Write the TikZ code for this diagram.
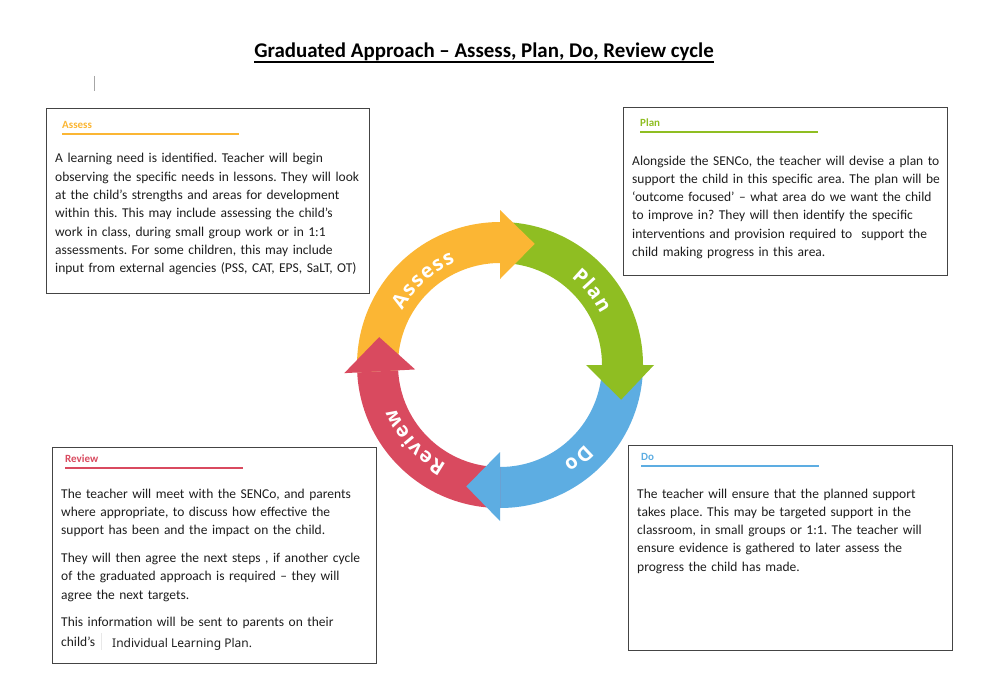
\documentclass[tikz,border=0pt]{standalone}
\usepackage{fontspec}
\setmainfont{Carlito}
\newfontfamily\ringfont{Open Sans}
\newfontfamily\ilpfont{Noto Sans}
\definecolor{cAssess}{HTML}{FBB634}
\definecolor{cPlan}{HTML}{8FBE22}
\definecolor{cDo}{HTML}{5DADE2}
\definecolor{cReview}{HTML}{D94A5F}
\definecolor{boxline}{HTML}{444444}
\definecolor{txt}{HTML}{1E1E1E}
\frenchspacing
\tikzset{
  panel/.style={draw=boxline, line width=1.1pt, anchor=north west, inner sep=0pt},
  hdr/.style={font=\fontsize{11}{12}\selectfont\bfseries, anchor=west, inner sep=0pt},
  hline/.style={line width=2pt},
  body/.style={font=\fontsize{13.5}{18.3}\selectfont, text=txt, anchor=base west, inner sep=0pt, text width=340pt, align=left},
  ringchar/.style={font=\ringfont\bfseries\fontsize{20}{22}\selectfont, text=white, anchor=base, inner sep=0pt}
}
% #1 name prefix, #2 centre angle, #3 baseline radius, #4 letter/offset list
\newcommand\ringword[4]{%
  \foreach \ch/\off [count=\k] in {#4} {%
    \node[ringchar, rotate={#2-\off*57.2958/#3-90}] (#1\k) at ({#2-\off*57.2958/#3}:#3) {\ch};%
  }%
}
\begin{document}
\begin{tikzpicture}[x=1pt,y=-1pt]
\path[fill=white,use as bounding box] (0,0) rectangle (1008,695);

% title
\node[font=\fontsize{20.9}{24}\selectfont\bfseries, anchor=base, inner sep=0pt, text=black] (title) at (484,58) {Graduated Approach – Assess, Plan, Do, Review cycle};
\draw[line width=1.4pt] ([yshift=-4pt]title.base west) -- ([yshift=-4pt]title.base east);

% cursor mark
\draw[gray!70, line width=1pt] (94.5,76) -- (94.5,91);

% panels
\node[panel, minimum width=323pt, minimum height=185pt] (assessbox) at (46,108) {};
\node[panel, minimum width=324pt, minimum height=168pt] (planbox) at (623,107) {};
\node[panel, minimum width=324pt, minimum height=216pt] (reviewbox) at (52,447) {};
\node[panel, minimum width=324pt, minimum height=205pt] (dobox) at (628,445) {};

% headers
\node[hdr, text=cAssess] (hA) at (62,125) {Assess};
\draw[hline, cAssess] (62,134) -- (239,134);
\node[hdr, text=cPlan] (hP) at (640,123) {Plan};
\draw[hline, cPlan] (640,132) -- (818,132);
\node[hdr, text=cReview] (hR) at (65,459) {Review};
\draw[hline, cReview] (65,468) -- (243,468);
\node[hdr, text=cDo] (hD) at (641,457) {Do};
\draw[hline, cDo] (641,466) -- (819,466);

% bodies
\node[body] (tA) at (55,163) {A learning need is identified. Teacher will begin\\
observing the specific needs in lessons. They will look\\
at the child’s strengths and areas for development\\
within this. This may include assessing the child’s\\
work in class, during small group work or in 1:1\\
assessments. For some children, this may include\\
input from external agencies (PSS, CAT, EPS, SaLT, OT)};

\node[body] (tP) at (632,165) {Alongside the SENCo, the teacher will devise a plan to\\
support the child in this specific area. The plan will be\\
‘outcome focused’ – what area do we want the child\\
to improve in? They will then identify the specific\\
interventions and provision required to\ \ support the\\
child making progress in this area.};

\node[body] (tR) at (61,498) {The teacher will meet with the SENCo, and parents\\
where appropriate, to discuss how effective the\\
support has been and the impact on the child.\\[9.5pt]
They will then agree the next steps , if another cycle\\
of the graduated approach is required – they will\\
agree the next targets.\\[9.5pt]
This information will be sent to parents on their\\[1.5pt]
child’s};
\draw[gray!18, line width=1pt] (101,633) -- (101,650);
\node[font=\ilpfont\fontsize{12}{14}\selectfont, text=txt, anchor=base west, inner sep=0pt] (tILP) at (112,647) {Individual Learning Plan.};

\node[body] (tD) at (637,498) {The teacher will ensure that the planned support\\
takes place. This may be targeted support in the\\
classroom, in small groups or 1:1. The teacher will\\
ensure evidence is gathered to later assess the\\
progress the child has made.};

% cycle
\begin{scope}[shift={(500,365)}, y=1pt]
  \fill[cAssess] (183:143) arc[start angle=183, end angle=90, radius=143] -- (90:102) arc[start angle=90, end angle=183, radius=102] -- cycle;
  \fill[cPlan] (90:143) arc[start angle=90, end angle=0, radius=143] -- (0:102) arc[start angle=0, end angle=90, radius=102] -- cycle;
  \fill[cDo] (0:143) arc[start angle=0, end angle=-90, radius=143] -- (-90:102) arc[start angle=-90, end angle=0, radius=102] -- cycle;
  \fill[cReview] (270:143) arc[start angle=270, end angle=183, radius=143] -- (183:102) arc[start angle=183, end angle=270, radius=102] -- cycle;
  \fill[cAssess] (90:155) -- (74:126) -- (90:86) -- cycle;
  \fill[cPlan] (0:154) -- (-16:126) -- (0:86) -- cycle;
  \fill[cDo] (-90:156) -- (-105.5:126) -- (-90:87) -- cycle;
  \fill[cReview] (183:156) -- (167:124) -- (183:85) -- cycle;
  \ringword{ra}{132}{112}{A/-29.65, s/-16.5, s/-5.0, e/7.4, s/19.8, s/31.3}
  \ringword{rp}{39}{113}{P/-17.3, l/-6.8, a/3.35, n/17.05}
  \ringword{rd}{-50}{116}{D/-6.8, o/7.85}
  \ringword{rr}{222}{113}{R/-32.15, e/-18.3, v/-5.4, i/4.45, e/14.7, w/30.35}
\end{scope}
\end{tikzpicture}
\end{document}
